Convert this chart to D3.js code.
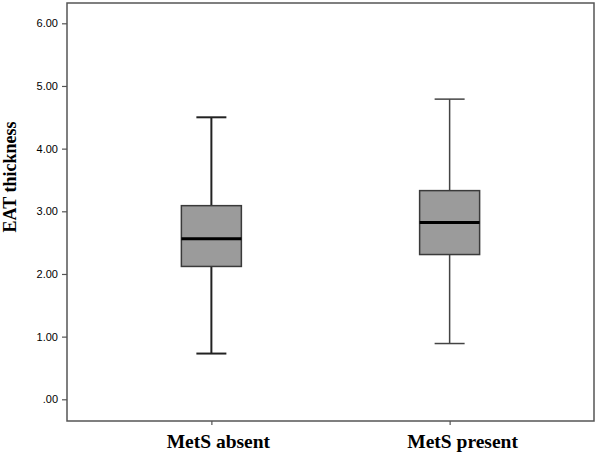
<!DOCTYPE html>
<html>
<head>
<meta charset="utf-8">
<script src="https://cdn.jsdelivr.net/npm/d3@7"></script>
<style>
  html, body { margin: 0; padding: 0; background: #fff; }
  svg { display: block; }
</style>
</head>
<body>
<svg id="chart" width="600" height="454"></svg>
<script>
// ---- data ----
const categories = ["MetS absent", "MetS present"];
const mins    = [0.73, 0.89];
const q1s     = [2.12, 2.31];
const medians = [2.56, 2.82];
const q3s     = [3.09, 3.33];
const maxs    = [4.50, 4.79];
const yTicks  = [0, 1, 2, 3, 4, 5, 6];
const yLabel  = "EAT thickness";

// ---- layout ----
const svg = d3.select("#chart");
const frame = { left: 67, right: 594, top: 3, bottom: 421 };

const x = d3.scalePoint().domain(categories).range([frame.left, frame.right]).padding(0.606);
const y = d3.scaleLinear().domain([0, 6]).range([399.3, 23.3]);

const boxes = categories.map((c, i) => ({
  cat: c, min: mins[i], q1: q1s[i], med: medians[i], q3: q3s[i], max: maxs[i], i
}));

// frame
svg.append("rect")
  .attr("x", frame.left).attr("y", frame.top)
  .attr("width", frame.right - frame.left).attr("height", frame.bottom - frame.top)
  .attr("fill", "none").attr("stroke", "#555").attr("stroke-width", 1.5);

// y axis ticks
const fmt = v => d3.format(".2f")(v).replace(/^0/, "");
const yAxis = d3.axisLeft(y).tickValues(yTicks).tickFormat(fmt).tickSize(5).tickPadding(4);
const gy = svg.append("g").attr("transform", `translate(${frame.left},0)`).call(yAxis);
gy.select(".domain").remove();
gy.selectAll(".tick line").attr("stroke", "#555").attr("stroke-width", 1.2);
gy.selectAll(".tick text")
  .style("fill", "#000")
  .style("font-family", "Liberation Sans, Arial, sans-serif").style("font-size", "11px");

// x axis ticks
const xAxis = d3.axisBottom(x).tickSize(4).tickFormat("");
const gx = svg.append("g").attr("transform", `translate(0,${frame.bottom})`).call(xAxis);
gx.select(".domain").remove();
gx.selectAll(".tick line").attr("stroke", "#555").attr("stroke-width", 1.2);

// category labels
svg.selectAll(".cat").data(categories).enter().append("text")
  .attr("class", "cat")
  .attr("x", d => x(d) + (d === categories[0] ? 7 : 13))
  .attr("y", 448)
  .attr("text-anchor", "middle")
  .style("font-family", "Liberation Serif, 'Times New Roman', serif")
  .style("font-weight", "bold").style("font-size", "19.5px")
  .style("fill", "#000")
  .text(d => d);

// y label
svg.append("text")
  .attr("transform", `translate(16,177) rotate(-90)`)
  .attr("text-anchor", "middle")
  .style("font-family", "Liberation Serif, 'Times New Roman', serif")
  .style("font-weight", "bold").style("font-size", "18px")
  .style("fill", "#000")
  .text(yLabel);

// boxes
const boxW = 60, capW = 30;
const g = svg.selectAll(".box").data(boxes).enter().append("g").attr("class", "box");
const sw = d => d.i === 0 ? 2 : 1.5;
const sc = d => d.i === 0 ? "#222" : "#444";

// whiskers
g.append("line")
  .attr("x1", d => x(d.cat)).attr("x2", d => x(d.cat))
  .attr("y1", d => y(d.max)).attr("y2", d => y(d.q3))
  .attr("stroke", sc).attr("stroke-width", sw);
g.append("line")
  .attr("x1", d => x(d.cat)).attr("x2", d => x(d.cat))
  .attr("y1", d => y(d.q1)).attr("y2", d => y(d.min))
  .attr("stroke", sc).attr("stroke-width", sw);
// caps
g.append("line")
  .attr("x1", d => x(d.cat) - capW / 2).attr("x2", d => x(d.cat) + capW / 2)
  .attr("y1", d => y(d.max)).attr("y2", d => y(d.max))
  .attr("stroke", sc).attr("stroke-width", sw);
g.append("line")
  .attr("x1", d => x(d.cat) - capW / 2).attr("x2", d => x(d.cat) + capW / 2)
  .attr("y1", d => y(d.min)).attr("y2", d => y(d.min))
  .attr("stroke", sc).attr("stroke-width", sw);
// box
g.append("rect")
  .attr("x", d => x(d.cat) - boxW / 2).attr("width", boxW)
  .attr("y", d => y(d.q3)).attr("height", d => y(d.q1) - y(d.q3))
  .attr("fill", "#9b9b9b").attr("stroke", "#3a3a3a").attr("stroke-width", 1.5);
// median
g.append("line")
  .attr("x1", d => x(d.cat) - boxW / 2).attr("x2", d => x(d.cat) + boxW / 2)
  .attr("y1", d => y(d.med)).attr("y2", d => y(d.med))
  .attr("stroke", "#000").attr("stroke-width", 3);
</script>
</body>
</html>
